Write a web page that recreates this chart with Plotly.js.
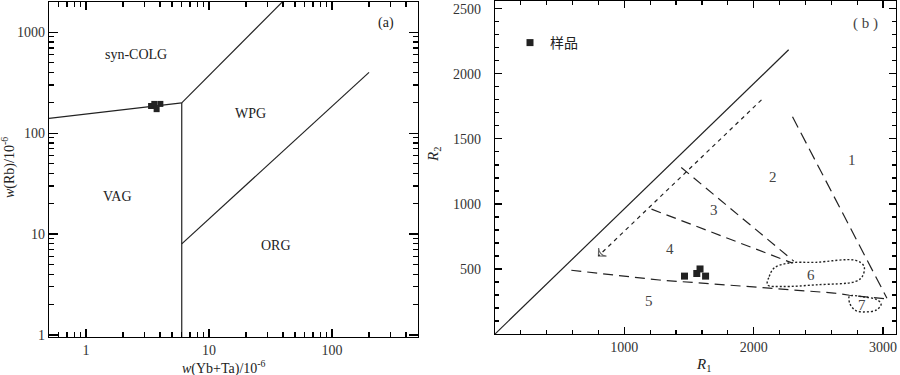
<!DOCTYPE html>
<html>
<head>
<meta charset="utf-8">
<script src="https://cdn.plot.ly/plotly-3.0.1.min.js"></script>
<style>
  html, body { margin: 0; padding: 0; background: #fff; }
  #wrap { position: relative; width: 900px; height: 375px; }
  #base, #axes { position: absolute; left: 0; top: 0; width: 900px; height: 375px; }
</style>
</head>
<body>
<div id="wrap"><div id="base"></div><div id="axes"></div></div>
<script>
// ---------- Panel (a): Rb vs Yb+Ta (log-log) ----------
const aColVagX = [0.5, 6];      const aColVagY = [140, 200];
const aVertX   = [6, 6];        const aVertY   = [0.9, 200];
const aColWpgX = [6, 39.5];     const aColWpgY = [200, 2000];
const aWpgOrgX = [6, 200];      const aWpgOrgY = [8, 400];
const aSampleX = [3.38, 3.59, 3.75, 4.02];
const aSampleY = [186, 195, 173, 195];
const aLabelText = ['syn-COLG', 'WPG', 'VAG', 'ORG', '(a)'];
const aLabelX    = [2.55, 21.9, 1.81, 35, 275];
const aLabelY    = [596, 158, 23.6, 7.7, 1245];

// ---------- Panel (b): R1-R2 ----------
const bSolidX  = [0, 2270];           const bSolidY  = [0, 2185];
const bArrowX  = [2060, 800];         const bArrowY  = [1800, 600];
const bLine1X  = [2300, 3030];        const bLine1Y  = [1670, 275];
const bLine23X = [1440, 2310];        const bLine23Y = [1280, 560];
const bLine34X = [1210, 2300];        const bLine34Y = [960, 545];
const bLine45X = [590, 1270, 1750, 2020, 2250, 2620, 2740, 2960, 3010];
const bLine45Y = [490, 415, 380, 360, 345, 315, 298, 280, 272];
const bField6X = [2107, 2120, 2159, 2274, 2480, 2788, 2853, 2840, 2788, 2480, 2223, 2107];
const bField6Y = [378, 443, 508, 546, 551, 566, 520, 443, 404, 378, 365, 378];
const bField7X = [2740, 2745, 2790, 2870, 2950, 2985, 2950, 2850, 2740];
const bField7Y = [290, 230, 180, 170, 185, 230, 265, 285, 290];
const bSampleX = [1465, 1560, 1585, 1628];
const bSampleY = [445, 465, 500, 445];
const bLabelText = ['1', '2', '3', '4', '5', '6', '7', '( b )'];
const bLabelX    = [2763, 2146, 1696, 1349, 1190, 2442, 2840, 2866];
const bLabelY    = [1340, 1204, 954, 655, 250, 456, 224, 2390];

const SERIF = 'Liberation Serif, Times New Roman, serif';
const INK = '#222';
const TK = '#000';

function seg(x, y, xa, ya, dash, width, extra) {
  return Object.assign({
    x: x, y: y, xaxis: xa, yaxis: ya, mode: 'lines', type: 'scatter',
    line: { color: INK, width: width || 1.2, dash: dash || 'solid' },
    hoverinfo: 'skip', showlegend: false
  }, extra || {});
}

const traces = [
  seg(aColVagX, aColVagY, 'x', 'y'),
  seg(aVertX, aVertY, 'x', 'y'),
  seg(aColWpgX, aColWpgY, 'x', 'y'),
  seg(aWpgOrgX, aWpgOrgY, 'x', 'y'),
  { x: aSampleX, y: aSampleY, xaxis: 'x', yaxis: 'y', mode: 'markers', type: 'scatter',
    marker: { symbol: 'square', size: 6, color: INK }, showlegend: false, name: '样品' },

  seg(bSolidX, bSolidY, 'x2', 'y2', 'solid', 1.2),
  seg(bArrowX, bArrowY, 'x2', 'y2', '4px,4px', 1.2, {
    mode: 'lines+markers',
    marker: { symbol: 'arrow-wide-open', angleref: 'previous', size: [0, 8], color: INK,
              line: { color: INK, width: 1.2 } }
  }),
  seg(bLine1X, bLine1Y, 'x2', 'y2', '12px,6px', 1.2),
  seg(bLine23X, bLine23Y, 'x2', 'y2', '10px,6px', 1.2),
  seg(bLine34X, bLine34Y, 'x2', 'y2', '10px,6px', 1.2),
  seg(bLine45X, bLine45Y, 'x2', 'y2', '10px,6px', 1.2),
  seg(bField6X, bField6Y, 'x2', 'y2', '2px,2px', 1.4, { line: { color: INK, width: 1.4, dash: '2px,2px', shape: 'spline' } }),
  seg(bField7X, bField7Y, 'x2', 'y2', '2px,2px', 1.4, { line: { color: INK, width: 1.4, dash: '2px,2px', shape: 'spline' } }),
  { x: bSampleX, y: bSampleY, xaxis: 'x2', yaxis: 'y2', mode: 'markers', type: 'scatter',
    marker: { symbol: 'square', size: 7, color: INK }, showlegend: true, name: '样品' }
];

const annotations = [];
aLabelText.forEach((t, i) => annotations.push({
  xref: 'x', yref: 'y', x: Math.log10(aLabelX[i]), y: Math.log10(aLabelY[i]),
  text: t, showarrow: false, font: { family: SERIF, size: 14, color: INK }
}));
bLabelText.forEach((t, i) => annotations.push({
  xref: 'x2', yref: 'y2', x: bLabelX[i], y: bLabelY[i],
  text: t, showarrow: false, font: { family: SERIF, size: 15, color: '#444' }
}));
annotations.push(
  { xref: 'paper', yref: 'paper', x: 9 / 900, y: 1 - 168 / 375, textangle: -90,
    xanchor: 'center', yanchor: 'middle',
    text: '<i>w</i>(Rb)/10<sup>-6</sup>', showarrow: false, font: { family: SERIF, size: 14, color: INK } },
  { xref: 'paper', yref: 'paper', x: 224 / 900, y: 1 - 367 / 375,
    xanchor: 'center', yanchor: 'middle',
    text: '<i>w</i>(Yb+Ta)/10<sup>-6</sup>', showarrow: false, font: { family: SERIF, size: 14, color: INK } },
  { xref: 'paper', yref: 'paper', x: 434 / 900, y: 1 - 155 / 375, textangle: -90,
    xanchor: 'center', yanchor: 'middle',
    text: '<i>R</i><sub>2</sub>', showarrow: false, font: { family: SERIF, size: 15, color: INK } },
  { xref: 'paper', yref: 'paper', x: 703 / 900, y: 1 - 365 / 375,
    xanchor: 'center', yanchor: 'middle',
    text: '<i>R</i><sub>1</sub>', showarrow: false, font: { family: SERIF, size: 15, color: INK } }
);

// shared scale definitions (domain / range) for both layers
const scales = {
  xaxis:  { domain: [49 / 900, 418 / 900], anchor: 'y', type: 'log', range: [Math.log10(0.5), Math.log10(500)] },
  yaxis:  { domain: [1 - 337 / 375, 1 - 2 / 375], anchor: 'x', type: 'log', range: [-0.02, 3.3] },
  xaxis2: { domain: [495 / 900, 896 / 900], anchor: 'y2', range: [0, 3100] },
  yaxis2: { domain: [1 - 334 / 375, 1 - 1 / 375], anchor: 'x2', range: [0, 2560] }
};

const tickFont = { family: SERIF, size: 14, color: '#333' };
const axBase = {
  visible: true, showline: true, linecolor: TK, linewidth: 1.2, mirror: 'ticks',
  ticks: 'inside', tickcolor: TK, tickwidth: 1.2, showgrid: false, zeroline: false,
  tickfont: tickFont, fixedrange: true
};
const axStyle = {
  xaxis: { dtick: 1, exponentformat: 'none', ticklen: 8,
    minor: { ticks: 'inside', ticklen: 5, dtick: 'D1', tickcolor: TK, tickwidth: 1.2, showgrid: false } },
  yaxis: { dtick: 1, exponentformat: 'none', ticklen: 9,
    minor: { ticks: 'inside', ticklen: 5, dtick: 'D1', tickcolor: TK, tickwidth: 1.2, showgrid: false } },
  xaxis2: { tickmode: 'array', tickvals: [1000, 2000, 3000], ticklen: 7,
    minor: { ticks: 'inside', ticklen: 4, dtick: 200, tick0: 0, tickcolor: TK, tickwidth: 1.2, showgrid: false } },
  yaxis2: { tickmode: 'array', tickvals: [500, 1000, 1500, 2000, 2500], ticklen: 7, ticklabelstandoff: 10,
    minor: { ticks: 'inside', ticklen: 4, dtick: 100, tick0: 0, tickcolor: TK, tickwidth: 1.2, showgrid: false } }
};

// base layer: data marks, labels, legend (axes only provide the scales)
const baseLayout = {
  width: 900, height: 375, margin: { l: 0, r: 0, t: 0, b: 0 },
  paper_bgcolor: '#fff', plot_bgcolor: '#fff', showlegend: true,
  legend: { x: 510 / 900, y: 1 - 43 / 375, xanchor: 'left', yanchor: 'middle',
            bgcolor: 'rgba(0,0,0,0)', font: { family: 'Noto Sans CJK SC', size: 14, color: INK } },
  annotations: annotations
};
// axes layer: frames, ticks and tick labels drawn on top
const axesLayout = {
  width: 900, height: 375, margin: { l: 0, r: 0, t: 0, b: 0 },
  paper_bgcolor: 'rgba(0,0,0,0)', plot_bgcolor: 'rgba(0,0,0,0)', showlegend: false
};
Object.keys(scales).forEach(k => {
  baseLayout[k] = Object.assign({}, scales[k], { visible: false, fixedrange: true });
  axesLayout[k] = Object.assign({}, axBase, scales[k], axStyle[k]);
});

const axesTraces = [
  { x: [], y: [], xaxis: 'x', yaxis: 'y', type: 'scatter', mode: 'markers', hoverinfo: 'skip' },
  { x: [], y: [], xaxis: 'x2', yaxis: 'y2', type: 'scatter', mode: 'markers', hoverinfo: 'skip' }
];

const cfg = { displayModeBar: false, staticPlot: true };
Plotly.newPlot('base', traces, baseLayout, cfg);
Plotly.newPlot('axes', axesTraces, axesLayout, cfg);
</script>
</body>
</html>
